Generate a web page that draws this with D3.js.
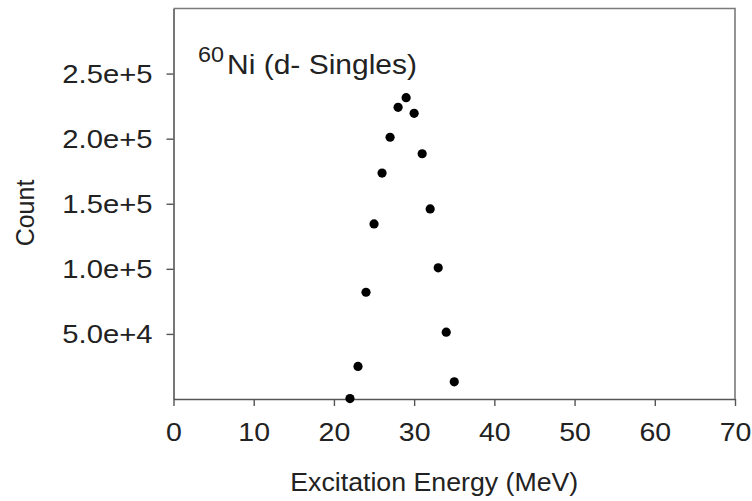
<!DOCTYPE html>
<html>
<head>
<meta charset="utf-8">
<script src="https://cdn.jsdelivr.net/npm/d3@7"></script>
<style>
  html, body { margin: 0; padding: 0; background: #fff; }
  text { font-family: "Liberation Sans", Arial, sans-serif; fill: #222; }
</style>
</head>
<body>
<svg id="chart" width="752" height="501"></svg>
<script>
// Data
const energies = [22, 23, 24, 25, 26, 27, 28, 29, 30, 31, 32, 33, 34, 35];
const counts = [300, 25000, 82000, 134500, 173600, 201100, 224100, 231500, 219500, 188400, 146000, 100800, 51300, 13200];
const xTicks = [0, 10, 20, 30, 40, 50, 60, 70];
const yTicks = [50000, 100000, 150000, 200000, 250000];
const xTitle = "Excitation Energy (MeV)";
const yTitle = "Count";
const labelSup = "60";
const labelMain = "Ni (d- Singles)";

const svg = d3.select("#chart");
const L = 173.5, R = 735, T = 8.5, B = 399;

const x = d3.scaleLinear().domain([0, 70]).range([L, R]);
const y = d3.scaleLinear().domain([0, 300000]).range([B, T]);

// frame (top/right)
svg.append("path")
  .attr("d", `M${L},${T}H${R}V${B}`)
  .attr("fill", "none").attr("stroke", "#7a7a7a").attr("stroke-width", 1.6);

// x axis
const gx = svg.append("g").attr("transform", `translate(0,${B})`)
  .call(d3.axisBottom(x).tickValues(xTicks).tickSize(7).tickSizeOuter(0).tickFormat(d3.format("d")));
gx.select(".domain").attr("stroke", "#555").attr("stroke-width", 1.6);
gx.selectAll(".tick line").attr("stroke", "#555").attr("stroke-width", 1.4);
gx.selectAll(".tick text")
  .attr("y", 0).attr("dy", 0)
  .attr("transform", "translate(0,42) scale(1.14,1)")
  .style("font-size", "25px").style("font-family", "Liberation Sans, Arial, sans-serif").attr("fill", "#222");

// y axis
const gy = svg.append("g").attr("transform", `translate(${L},0)`)
  .call(d3.axisLeft(y).tickValues(yTicks).tickSize(7).tickSizeOuter(0).tickFormat(d3.format(".1e")));
gy.select(".domain").attr("stroke", "#555").attr("stroke-width", 1.6);
gy.selectAll(".tick line").attr("stroke", "#555").attr("stroke-width", 1.4);
gy.selectAll(".tick text")
  .attr("x", 0).attr("dy", 0)
  .attr("transform", "translate(-21,9) scale(1.17,1)")
  .style("font-size", "25px").style("font-family", "Liberation Sans, Arial, sans-serif").attr("fill", "#222");

// points
svg.append("g").selectAll("circle")
  .data(energies.map((e, i) => ({ e, c: counts[i] })))
  .join("circle")
  .attr("cx", d => x(d.e))
  .attr("cy", d => y(d.c))
  .attr("r", 4.6)
  .attr("fill", "#000");

// axis titles
svg.append("text")
  .attr("x", (L + R) / 2 - 20).attr("y", 491)
  .attr("text-anchor", "middle")
  .style("font-size", "25px")
  .attr("textLength", 288).attr("lengthAdjust", "spacingAndGlyphs")
  .text(xTitle);

svg.append("text")
  .attr("transform", "translate(34,213) rotate(-90)")
  .attr("text-anchor", "middle")
  .style("font-size", "25px")
  .text(yTitle);

// annotation
svg.append("text").attr("x", 198).attr("y", 62)
  .style("font-size", "22px")
  .attr("textLength", 26).attr("lengthAdjust", "spacingAndGlyphs")
  .text(labelSup);
svg.append("text").attr("x", 227).attr("y", 74)
  .style("font-size", "27px")
  .attr("textLength", 190).attr("lengthAdjust", "spacingAndGlyphs")
  .text(labelMain);
</script>
</body>
</html>
